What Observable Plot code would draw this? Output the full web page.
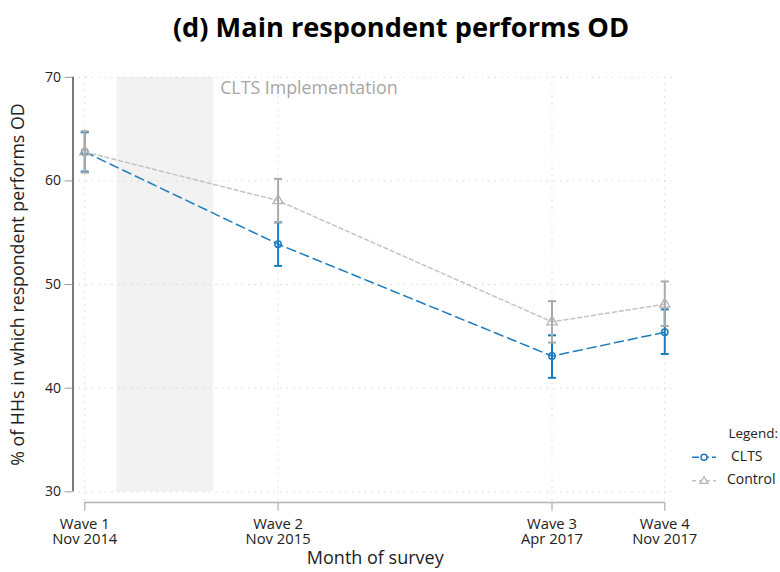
<!DOCTYPE html>
<html><head><meta charset="utf-8">
<script src="https://cdn.jsdelivr.net/npm/d3@7"></script>
<script src="https://cdn.jsdelivr.net/npm/@observablehq/plot@0.6"></script>
<style>
body{margin:0;background:#fff;font-family:"Open Sans",sans-serif;}
#wrap{position:relative;width:780px;height:572px;overflow:hidden;}
#title{position:absolute;left:11px;top:0;width:780px;height:56px;text-align:center;font-weight:bold;font-size:27.2px;line-height:54px;color:#000;}
#chart{position:absolute;left:0;top:56px;}
#legend{position:absolute;left:0;top:0;}
</style></head>
<body><div id="wrap"><div id="title">(d) Main respondent performs OD</div><div id="chart"></div>
<svg id="legend" width="780" height="572" font-family="Open Sans" font-size="14">
<text x="778" y="434.5" text-anchor="end" dominant-baseline="middle" fill="#222" font-size="13.5">Legend:</text>
<line x1="692" x2="716" y1="457.3" y2="457.3" stroke="#1c7bbd" stroke-width="1.5" stroke-dasharray="7,3"></line>
<circle cx="704" cy="457.3" r="3" fill="white" stroke="#1c7bbd" stroke-width="1.5"></circle>
<text x="731" y="457.3" dominant-baseline="middle" fill="#222">CLTS</text>
<line x1="692" x2="716" y1="480.7" y2="480.7" stroke="#c3c3c3" stroke-width="1.5" stroke-dasharray="4,3"></line>
<path d="M704,476.7 L708,483.3 L700,483.3 Z" fill="white" stroke="#b3b3b3" stroke-width="1.3"></path>
<text x="727" y="480.7" dominant-baseline="middle" fill="#222">Control</text>
</svg>
</div>
<script>
const waves = ["Wave 1", "Wave 2", "Wave 3", "Wave 4"];
const surveyMonths = ["2014-11", "2015-11", "2017-04", "2017-11"];
const monthLabels = ["Nov 2014", "Nov 2015", "Apr 2017", "Nov 2017"];
const cltsMean = [62.8, 53.9, 43.1, 45.4];
const cltsLow = [60.9, 51.8, 41.0, 43.3];
const cltsHigh = [64.7, 56.0, 45.1, 47.6];
const controlMean = [62.8, 58.1, 46.4, 48.1];
const controlLow = [60.8, 56.0, 44.4, 46.0];
const controlHigh = [64.8, 60.2, 48.4, 50.3];
const implementation = ["2015-01", "2015-07"];
const implementationLabel = "CLTS Implementation";
const yTicks = [30, 40, 50, 60, 70];
const yLabel = "% of HHs in which respondent performs OD";
const xLabel = "Month of survey";

const toM = s => { const [y, m] = s.split("-").map(Number); return (y - 1960) * 12 + (m - 1); };
const wm = surveyMonths.map(toM);
const clts = wm.map((m, i) => ({m, mean: cltsMean[i], lo: cltsLow[i], hi: cltsHigh[i]}));
const control = wm.map((m, i) => ({m, mean: controlMean[i], lo: controlLow[i], hi: controlHigh[i]}));
const xDomain = [wm[0] - 0.73, wm[0] + 36.79];
const impl = [{x1: toM(implementation[0]), x2: toM(implementation[1])}];

const cap = {draw(ctx, size) { const r = Math.sqrt(size / Math.PI); ctx.moveTo(-r, 0); ctx.lineTo(r, 0); }};
const blue = "#1c7bbd", gray = "#aaaaaa", grayLine = "#c3c3c3";

const chart = Plot.plot({
  width: 780, height: 516,
  marginLeft: 72.5, marginRight: 103, marginTop: 20.8, marginBottom: 70,
  style: {fontFamily: "Open Sans", fontSize: "14px", color: "#222", background: "white"},
  x: {type: "linear", domain: xDomain},
  y: {domain: [30, 70], insetBottom: 10.7},
  marks: [
    Plot.rectX(impl, {x1: "x1", x2: "x2", y1: 30, y2: 70, fill: "#f2f2f2"}),
    Plot.ruleY(yTicks, {stroke: "#c8c8c8", strokeDasharray: "1,5.5", strokeWidth: 1}),
    Plot.gridX(wm, {stroke: "#c8c8c8", strokeOpacity: 1, strokeDasharray: "1,5.5"}),
    Plot.ruleX([xDomain[0]], {y1: 30, y2: 70, stroke: "#222", strokeWidth: 1.2}),
    Plot.axisY({ticks: yTicks, tickSize: 8, tickPadding: 4, stroke: "#999", label: null}),
    Plot.ruleY([30], {x1: wm[0], x2: wm[3], dy: 10.7, stroke: "#b3b3b3", strokeWidth: 1.3}),
    Plot.axisX({ticks: wm, tickSize: 8.7, tickPadding: 6.5, stroke: "#b3b3b3", strokeWidth: 1.3, lineHeight: 1.05, fontSize: 14.8,
      tickFormat: (d) => { const i = wm.indexOf(d); return waves[i] + "\n" + monthLabels[i]; }, label: null}),
    Plot.text([implementationLabel], {x: () => impl[0].x2, y: () => 70, dx: 6.5, dy: 11, text: d => d, textAnchor: "start", fill: "#a6a6a6", fontSize: 17.8}),
    Plot.text([yLabel], {frameAnchor: "left", y: () => 50, dx: -54.5, rotate: -90, textAnchor: "middle", text: d => d, fontSize: 17.8, fill: "#222"}),
    Plot.text([xLabel], {frameAnchor: "bottom", dy: 61, text: d => d, fontSize: 18, fill: "#222"}),
    // CLTS
    Plot.line(clts, {x: "m", y: "mean", stroke: blue, strokeWidth: 1.5, strokeDasharray: "9,5"}),
    Plot.ruleX(clts, {x: "m", y1: "lo", y2: "hi", stroke: blue, strokeWidth: 2}),
    Plot.dot(clts, {x: "m", y: "lo", symbol: cap, r: 4, stroke: blue, strokeWidth: 2}),
    Plot.dot(clts, {x: "m", y: "hi", symbol: cap, r: 4, stroke: blue, strokeWidth: 2}),
    Plot.dot(clts, {x: "m", y: "mean", r: 3.2, stroke: blue, strokeWidth: 1.5, fill: "none"}),
    // Control
    Plot.line(control, {x: "m", y: "mean", stroke: grayLine, strokeWidth: 1.5, strokeDasharray: "4,3"}),
    Plot.ruleX(control, {x: "m", y1: "lo", y2: "hi", stroke: gray, strokeWidth: 2}),
    Plot.dot(control, {x: "m", y: "lo", symbol: cap, r: 4, stroke: gray, strokeWidth: 2}),
    Plot.dot(control, {x: "m", y: "hi", symbol: cap, r: 4, stroke: gray, strokeWidth: 2}),
    Plot.dot(control, {x: "m", y: "mean", symbol: "triangle", r: 3.8, stroke: "#b3b3b3", strokeWidth: 1.3, fill: "none"})
  ]
});
document.getElementById("chart").appendChild(chart);
</script>
</body></html>
